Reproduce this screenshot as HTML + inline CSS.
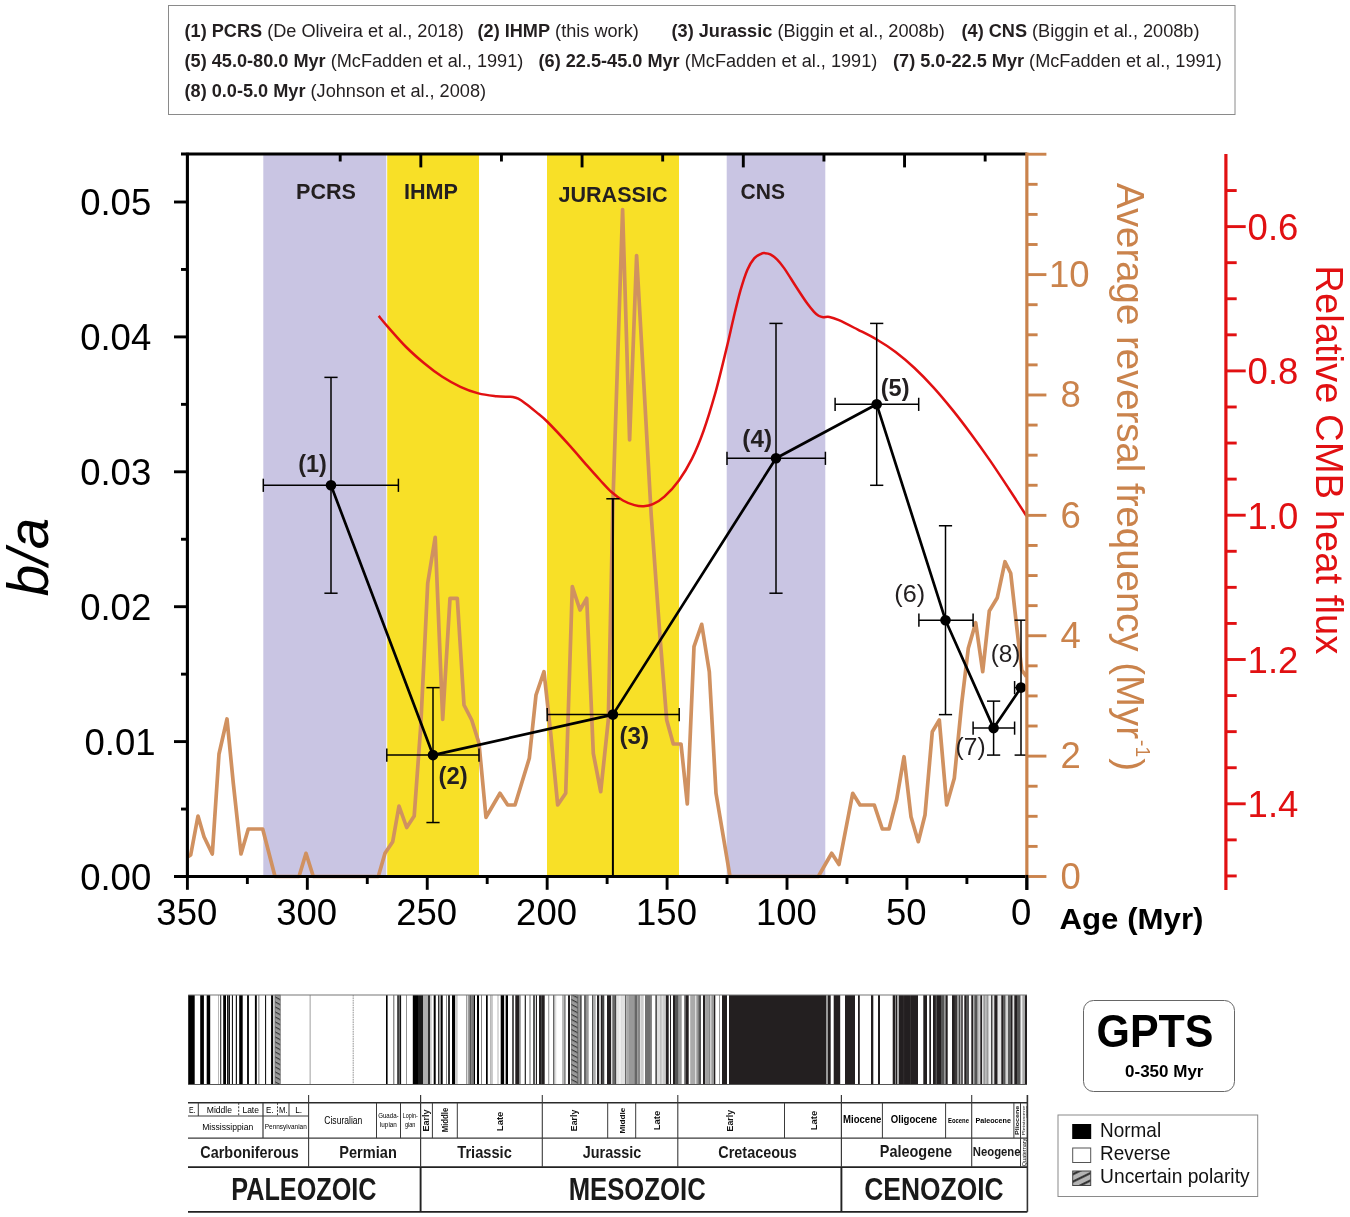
<!DOCTYPE html>
<html lang="en">
<head>
<meta charset="utf-8">
<title>b/a versus age, reversal frequency, CMB heat flux and GPTS</title>
<style>
html,body{margin:0;padding:0;background:#fff;}
body{width:1350px;height:1217px;overflow:hidden;}
svg{display:block;font-family:"Liberation Sans", sans-serif;}
text{font-family:"Liberation Sans", sans-serif;}
</style>
</head>
<body>
<svg width="1350" height="1217" viewBox="0 0 1350 1217">
<rect width="1350" height="1217" fill="#fff"/>
<!-- header -->
<rect x="168.50" y="5.50" width="1066.50" height="109.00" fill="#fff" stroke="#8a8a8a" stroke-width="1"/>
<text x="184.50" y="37.00" font-size="18.15" fill="#231f20" xml:space="preserve"><tspan font-weight="bold">(1) PCRS</tspan> (De Oliveira et al., 2018)</text>
<text x="477.50" y="37.00" font-size="18.15" fill="#231f20" xml:space="preserve"><tspan font-weight="bold">(2) IHMP</tspan> (this work)</text>
<text x="671.50" y="37.00" font-size="18.15" fill="#231f20" xml:space="preserve"><tspan font-weight="bold">(3) Jurassic</tspan> (Biggin et al., 2008b)</text>
<text x="961.50" y="37.00" font-size="18.15" fill="#231f20" xml:space="preserve"><tspan font-weight="bold">(4) CNS</tspan> (Biggin et al., 2008b)</text>
<text x="184.50" y="67.00" font-size="18.15" fill="#231f20" xml:space="preserve"><tspan font-weight="bold">(5) 45.0-80.0 Myr</tspan> (McFadden et al., 1991)</text>
<text x="538.50" y="67.00" font-size="18.15" fill="#231f20" xml:space="preserve"><tspan font-weight="bold">(6) 22.5-45.0 Myr</tspan> (McFadden et al., 1991)</text>
<text x="893.00" y="67.00" font-size="18.15" fill="#231f20" xml:space="preserve"><tspan font-weight="bold">(7) 5.0-22.5 Myr</tspan> (McFadden et al., 1991)</text>
<text x="184.50" y="96.50" font-size="18.15" fill="#231f20" xml:space="preserve"><tspan font-weight="bold">(8) 0.0-5.0 Myr</tspan> (Johnson et al., 2008)</text>
<!-- bands -->
<rect x="263.30" y="154.00" width="123.00" height="722.50" fill="#c9c5e3" />
<rect x="387.20" y="154.00" width="91.80" height="722.50" fill="#f8e027" />
<rect x="547.00" y="154.00" width="132.00" height="722.50" fill="#f8e027" />
<rect x="726.70" y="154.00" width="98.60" height="722.50" fill="#c9c5e3" />
<text x="296.00" y="199.40" font-size="22.2" fill="#231f20" font-weight="bold" textLength="60.00" lengthAdjust="spacingAndGlyphs" >PCRS</text>
<text x="404.00" y="199.40" font-size="22.2" fill="#231f20" font-weight="bold" textLength="54.00" lengthAdjust="spacingAndGlyphs" >IHMP</text>
<text x="558.50" y="201.80" font-size="22.2" fill="#231f20" font-weight="bold" textLength="109.00" lengthAdjust="spacingAndGlyphs" >JURASSIC</text>
<text x="740.50" y="199.20" font-size="22.2" fill="#231f20" font-weight="bold" textLength="44.50" lengthAdjust="spacingAndGlyphs" >CNS</text>
<polyline fill="none" stroke="#d09160" stroke-width="3.7" stroke-linejoin="round" stroke-linecap="butt" points="188.0,856.7 190.7,855.0 198.0,816.0 204.0,836.7 212.3,854.0 219.0,754.0 227.0,719.0 233.3,783.3 241.0,854.0 248.3,829.0 262.7,829.0 275.0,876.5 299.0,876.5 306.0,853.3 313.3,876.5 378.3,876.5 385.0,853.3 392.7,841.7 399.0,806.0 406.7,827.5 414.2,816.0 420.7,726.7 427.7,583.3 435.2,537.3 442.7,719.3 450.0,598.3 457.3,598.3 464.0,705.0 471.7,720.0 479.0,743.3 486.0,817.3 500.0,793.3 507.7,805.0 515.0,805.0 529.3,758.3 536.0,695.0 544.0,671.7 550.7,733.3 557.7,805.0 565.7,793.3 572.3,586.7 580.0,610.0 586.7,598.3 593.3,753.3 600.7,791.7 608.3,720.0 613.0,500.0 622.6,209.5 629.6,440.0 636.6,255.5 651.2,515.0 660.0,636.7 666.7,720.0 673.3,744.0 681.0,744.0 687.3,804.0 694.0,646.7 701.7,624.3 709.3,671.7 716.0,793.3 730.0,876.5 818.3,876.5 831.7,853.3 839.0,864.5 852.7,793.3 860.0,805.0 874.3,805.0 882.3,829.0 889.0,829.0 896.7,799.3 904.0,756.7 911.0,816.7 918.3,841.7 925.0,815.0 932.3,731.7 939.3,720.0 946.7,805.0 954.3,778.3 961.7,703.3 968.3,648.3 975.7,622.7 982.7,671.7 989.3,611.0 997.3,597.7 1005.0,561.7 1010.7,573.3 1016.7,626.7 1021.7,670.0 1026.5,676.7"/>
<path d="M378.7,315.9C380.3,317.8 383.5,321.9 388.1,327.1C392.7,332.3 400.1,341.0 406.1,347.0C412.1,353.0 418.2,358.3 424.2,363.3C430.2,368.3 436.3,372.9 442.3,376.8C448.3,380.7 454.4,384.0 460.4,386.8C466.4,389.6 472.4,391.8 478.4,393.4C484.4,395.0 491.6,395.7 496.5,396.3C501.4,396.9 505.3,396.7 508.0,396.8C510.7,396.9 511.1,396.7 512.8,397.0C514.5,397.3 516.1,397.6 518.2,398.7C520.3,399.8 522.4,401.2 525.4,403.4C528.4,405.6 532.7,409.1 536.3,412.1C539.9,415.1 541.7,416.1 547.1,421.5C552.5,426.9 562.2,437.3 568.8,444.6C575.4,451.9 581.7,459.5 586.9,465.4C592.1,471.3 595.9,475.6 600.0,480.0C604.1,484.4 607.7,488.6 611.5,492.0C615.3,495.4 619.2,498.3 623.0,500.5C626.8,502.7 631.0,504.2 634.5,505.1C638.0,506.1 640.6,506.4 643.7,506.2C646.8,506.0 649.5,505.7 652.9,504.1C656.3,502.5 660.1,500.6 664.4,496.6C668.7,492.7 674.3,486.7 678.9,480.4C683.5,474.1 687.9,466.8 692.0,458.6C696.1,450.4 699.7,441.7 703.5,431.0C707.3,420.3 711.1,408.0 715.0,394.2C718.9,380.4 723.5,360.8 726.6,348.1C729.7,335.4 731.2,327.8 733.5,318.2C735.8,308.6 738.1,298.7 740.4,290.6C742.7,282.6 745.0,275.3 747.3,269.9C749.6,264.5 751.9,261.1 754.2,258.4C756.5,255.7 759.4,254.7 761.1,253.8C762.8,252.9 763.0,253.0 764.5,253.1C766.0,253.2 768.2,253.2 770.3,254.3C772.4,255.4 774.9,257.3 777.2,259.6C779.5,261.9 781.0,263.7 784.1,268.1C787.2,272.5 791.8,280.1 795.6,286.0C799.4,291.9 804.0,299.0 807.1,303.3C810.2,307.6 812.1,309.7 814.0,311.8C815.9,313.9 817.1,314.8 818.6,315.7C820.1,316.6 821.4,317.0 823.2,317.2C825.0,317.4 826.8,316.5 829.4,317.0C832.0,317.5 834.2,318.1 838.9,320.2C843.6,322.3 851.5,326.4 857.8,329.6C864.1,332.8 870.4,335.8 876.7,339.5C883.0,343.2 889.3,347.2 895.6,352.0C901.9,356.8 908.2,362.1 914.5,368.0C920.8,373.9 927.1,380.4 933.4,387.3C939.7,394.2 946.0,401.8 952.3,409.6C958.6,417.4 964.9,425.7 971.2,434.2C977.5,442.7 983.8,451.5 990.1,460.6C996.4,469.7 1002.9,479.8 1009.0,489.0C1015.1,498.2 1023.6,511.5 1026.5,516.0" fill="none" stroke="#e11012" stroke-width="2.5"/>
<line x1="263.30" y1="485.29" x2="398.40" y2="485.29" stroke="#000" stroke-width="1.5" />
<line x1="263.30" y1="478.69" x2="263.30" y2="491.89" stroke="#000" stroke-width="1.5" />
<line x1="398.40" y1="478.69" x2="398.40" y2="491.89" stroke="#000" stroke-width="1.5" />
<line x1="331.00" y1="377.37" x2="331.00" y2="593.21" stroke="#000" stroke-width="1.5" />
<line x1="324.40" y1="377.37" x2="337.60" y2="377.37" stroke="#000" stroke-width="1.5" />
<line x1="324.40" y1="593.21" x2="337.60" y2="593.21" stroke="#000" stroke-width="1.5" />
<line x1="386.80" y1="755.09" x2="479.00" y2="755.09" stroke="#000" stroke-width="1.5" />
<line x1="386.80" y1="748.49" x2="386.80" y2="761.69" stroke="#000" stroke-width="1.5" />
<line x1="479.00" y1="748.49" x2="479.00" y2="761.69" stroke="#000" stroke-width="1.5" />
<line x1="433.00" y1="687.64" x2="433.00" y2="822.54" stroke="#000" stroke-width="1.5" />
<line x1="426.40" y1="687.64" x2="439.60" y2="687.64" stroke="#000" stroke-width="1.5" />
<line x1="426.40" y1="822.54" x2="439.60" y2="822.54" stroke="#000" stroke-width="1.5" />
<line x1="547.20" y1="714.62" x2="679.20" y2="714.62" stroke="#000" stroke-width="1.5" />
<line x1="547.20" y1="708.02" x2="547.20" y2="721.22" stroke="#000" stroke-width="1.5" />
<line x1="679.20" y1="708.02" x2="679.20" y2="721.22" stroke="#000" stroke-width="1.5" />
<line x1="612.90" y1="498.78" x2="612.90" y2="876.50" stroke="#000" stroke-width="2.0" />
<line x1="606.30" y1="498.78" x2="619.50" y2="498.78" stroke="#000" stroke-width="1.5" />
<line x1="727.00" y1="458.31" x2="825.40" y2="458.31" stroke="#000" stroke-width="1.5" />
<line x1="727.00" y1="451.71" x2="727.00" y2="464.91" stroke="#000" stroke-width="1.5" />
<line x1="825.40" y1="451.71" x2="825.40" y2="464.91" stroke="#000" stroke-width="1.5" />
<line x1="776.00" y1="323.41" x2="776.00" y2="593.21" stroke="#000" stroke-width="1.5" />
<line x1="769.40" y1="323.41" x2="782.60" y2="323.41" stroke="#000" stroke-width="1.5" />
<line x1="769.40" y1="593.21" x2="782.60" y2="593.21" stroke="#000" stroke-width="1.5" />
<line x1="835.10" y1="404.35" x2="918.70" y2="404.35" stroke="#000" stroke-width="1.5" />
<line x1="835.10" y1="397.75" x2="835.10" y2="410.95" stroke="#000" stroke-width="1.5" />
<line x1="918.70" y1="397.75" x2="918.70" y2="410.95" stroke="#000" stroke-width="1.5" />
<line x1="876.70" y1="323.41" x2="876.70" y2="485.29" stroke="#000" stroke-width="1.5" />
<line x1="870.10" y1="323.41" x2="883.30" y2="323.41" stroke="#000" stroke-width="1.5" />
<line x1="870.10" y1="485.29" x2="883.30" y2="485.29" stroke="#000" stroke-width="1.5" />
<line x1="918.90" y1="620.19" x2="973.10" y2="620.19" stroke="#000" stroke-width="1.5" />
<line x1="918.90" y1="613.59" x2="918.90" y2="626.79" stroke="#000" stroke-width="1.5" />
<line x1="973.10" y1="613.59" x2="973.10" y2="626.79" stroke="#000" stroke-width="1.5" />
<line x1="945.50" y1="525.76" x2="945.50" y2="714.62" stroke="#000" stroke-width="1.5" />
<line x1="938.90" y1="525.76" x2="952.10" y2="525.76" stroke="#000" stroke-width="1.5" />
<line x1="938.90" y1="714.62" x2="952.10" y2="714.62" stroke="#000" stroke-width="1.5" />
<line x1="973.10" y1="728.11" x2="1014.60" y2="728.11" stroke="#000" stroke-width="1.5" />
<line x1="973.10" y1="721.51" x2="973.10" y2="734.71" stroke="#000" stroke-width="1.5" />
<line x1="1014.60" y1="721.51" x2="1014.60" y2="734.71" stroke="#000" stroke-width="1.5" />
<line x1="993.60" y1="701.13" x2="993.60" y2="755.09" stroke="#000" stroke-width="1.5" />
<line x1="987.00" y1="701.13" x2="1000.20" y2="701.13" stroke="#000" stroke-width="1.5" />
<line x1="987.00" y1="755.09" x2="1000.20" y2="755.09" stroke="#000" stroke-width="1.5" />
<line x1="1014.60" y1="687.64" x2="1026.85" y2="687.64" stroke="#000" stroke-width="1.5" />
<line x1="1014.60" y1="681.04" x2="1014.60" y2="694.24" stroke="#000" stroke-width="1.5" />
<line x1="1021.00" y1="620.19" x2="1021.00" y2="755.09" stroke="#000" stroke-width="1.5" />
<line x1="1014.60" y1="620.19" x2="1027.00" y2="620.19" stroke="#000" stroke-width="1.5" />
<line x1="1014.60" y1="755.09" x2="1027.00" y2="755.09" stroke="#000" stroke-width="1.5" />
<polyline fill="none" stroke="#000" stroke-width="2.7" stroke-linejoin="round" points="331.0,485.3 433.0,755.1 612.9,714.6 776.0,458.3 876.7,404.3 945.5,620.2 993.6,728.1 1021.0,687.6"/>
<circle cx="331.0" cy="485.3" r="5.3" fill="#000"/>
<circle cx="433.0" cy="755.1" r="5.3" fill="#000"/>
<circle cx="612.9" cy="714.6" r="5.3" fill="#000"/>
<circle cx="776.0" cy="458.3" r="5.3" fill="#000"/>
<circle cx="876.7" cy="404.3" r="5.3" fill="#000"/>
<circle cx="945.5" cy="620.2" r="5.3" fill="#000"/>
<circle cx="993.6" cy="728.1" r="5.3" fill="#000"/>
<circle cx="1021.0" cy="687.6" r="5.3" fill="#000"/>
<text x="298.20" y="471.60" font-size="23.5" fill="#231f20" font-weight="bold" textLength="28.60" lengthAdjust="spacingAndGlyphs" >(1)</text>
<text x="438.60" y="783.90" font-size="23.5" fill="#231f20" font-weight="bold" textLength="29.20" lengthAdjust="spacingAndGlyphs" >(2)</text>
<text x="619.50" y="743.50" font-size="23.5" fill="#231f20" font-weight="bold" textLength="29.60" lengthAdjust="spacingAndGlyphs" >(3)</text>
<text x="742.30" y="447.30" font-size="23.5" fill="#231f20" font-weight="bold" textLength="29.70" lengthAdjust="spacingAndGlyphs" >(4)</text>
<text x="880.70" y="395.60" font-size="23.5" fill="#231f20" font-weight="bold" textLength="28.80" lengthAdjust="spacingAndGlyphs" >(5)</text>
<text x="894.30" y="601.80" font-size="23.5" fill="#231f20" textLength="30.80" lengthAdjust="spacingAndGlyphs" >(6)</text>
<text x="955.60" y="754.70" font-size="23.5" fill="#231f20" textLength="30.00" lengthAdjust="spacingAndGlyphs" >(7)</text>
<text x="990.70" y="662.40" font-size="23.5" fill="#231f20" textLength="29.80" lengthAdjust="spacingAndGlyphs" >(8)</text>
<!-- axes -->
<line x1="181.00" y1="154.00" x2="1026.85" y2="154.00" stroke="#000" stroke-width="3.1" />
<line x1="187.40" y1="152.80" x2="187.40" y2="878.00" stroke="#000" stroke-width="3.1" />
<line x1="174.00" y1="876.50" x2="1028.35" y2="876.50" stroke="#000" stroke-width="3.1" />
<line x1="174.00" y1="876.50" x2="187.40" y2="876.50" stroke="#000" stroke-width="2.9" />
<line x1="181.00" y1="809.05" x2="187.40" y2="809.05" stroke="#000" stroke-width="2.9" />
<line x1="174.00" y1="741.60" x2="187.40" y2="741.60" stroke="#000" stroke-width="2.9" />
<line x1="181.00" y1="674.15" x2="187.40" y2="674.15" stroke="#000" stroke-width="2.9" />
<line x1="174.00" y1="606.70" x2="187.40" y2="606.70" stroke="#000" stroke-width="2.9" />
<line x1="181.00" y1="539.25" x2="187.40" y2="539.25" stroke="#000" stroke-width="2.9" />
<line x1="174.00" y1="471.80" x2="187.40" y2="471.80" stroke="#000" stroke-width="2.9" />
<line x1="181.00" y1="404.35" x2="187.40" y2="404.35" stroke="#000" stroke-width="2.9" />
<line x1="174.00" y1="336.90" x2="187.40" y2="336.90" stroke="#000" stroke-width="2.9" />
<line x1="181.00" y1="269.45" x2="187.40" y2="269.45" stroke="#000" stroke-width="2.9" />
<line x1="174.00" y1="202.00" x2="187.40" y2="202.00" stroke="#000" stroke-width="2.9" />
<text x="151.20" y="889.60" font-size="36.5" fill="#000" text-anchor="end" >0.00</text>
<text x="155.60" y="754.70" font-size="36.5" fill="#000" text-anchor="end" >0.01</text>
<text x="151.20" y="619.80" font-size="36.5" fill="#000" text-anchor="end" >0.02</text>
<text x="151.20" y="484.90" font-size="36.5" fill="#000" text-anchor="end" >0.03</text>
<text x="151.20" y="350.00" font-size="36.5" fill="#000" text-anchor="end" >0.04</text>
<text x="151.20" y="215.10" font-size="36.5" fill="#000" text-anchor="end" >0.05</text>
<line x1="1026.85" y1="876.50" x2="1026.85" y2="889.80" stroke="#000" stroke-width="2.9" />
<line x1="966.89" y1="876.50" x2="966.89" y2="884.00" stroke="#000" stroke-width="2.9" />
<line x1="906.93" y1="876.50" x2="906.93" y2="889.80" stroke="#000" stroke-width="2.9" />
<line x1="846.97" y1="876.50" x2="846.97" y2="884.00" stroke="#000" stroke-width="2.9" />
<line x1="787.01" y1="876.50" x2="787.01" y2="889.80" stroke="#000" stroke-width="2.9" />
<line x1="727.05" y1="876.50" x2="727.05" y2="884.00" stroke="#000" stroke-width="2.9" />
<line x1="667.09" y1="876.50" x2="667.09" y2="889.80" stroke="#000" stroke-width="2.9" />
<line x1="607.12" y1="876.50" x2="607.12" y2="884.00" stroke="#000" stroke-width="2.9" />
<line x1="547.16" y1="876.50" x2="547.16" y2="889.80" stroke="#000" stroke-width="2.9" />
<line x1="487.20" y1="876.50" x2="487.20" y2="884.00" stroke="#000" stroke-width="2.9" />
<line x1="427.24" y1="876.50" x2="427.24" y2="889.80" stroke="#000" stroke-width="2.9" />
<line x1="367.28" y1="876.50" x2="367.28" y2="884.00" stroke="#000" stroke-width="2.9" />
<line x1="307.32" y1="876.50" x2="307.32" y2="889.80" stroke="#000" stroke-width="2.9" />
<line x1="247.36" y1="876.50" x2="247.36" y2="884.00" stroke="#000" stroke-width="2.9" />
<line x1="187.40" y1="876.50" x2="187.40" y2="889.80" stroke="#000" stroke-width="2.9" />
<text x="186.80" y="925.00" font-size="36.5" fill="#000" text-anchor="middle" >350</text>
<text x="306.72" y="925.00" font-size="36.5" fill="#000" text-anchor="middle" >300</text>
<text x="426.64" y="925.00" font-size="36.5" fill="#000" text-anchor="middle" >250</text>
<text x="546.56" y="925.00" font-size="36.5" fill="#000" text-anchor="middle" >200</text>
<text x="666.49" y="925.00" font-size="36.5" fill="#000" text-anchor="middle" >150</text>
<text x="786.41" y="925.00" font-size="36.5" fill="#000" text-anchor="middle" >100</text>
<text x="906.33" y="925.00" font-size="36.5" fill="#000" text-anchor="middle" >50</text>
<text x="1021.20" y="925.00" font-size="36.5" fill="#000" text-anchor="middle" >0</text>
<line x1="340.20" y1="154.00" x2="340.20" y2="161.50" stroke="#000" stroke-width="2.9" />
<line x1="420.82" y1="154.00" x2="420.82" y2="167.40" stroke="#000" stroke-width="2.9" />
<line x1="501.44" y1="154.00" x2="501.44" y2="161.50" stroke="#000" stroke-width="2.9" />
<line x1="582.06" y1="154.00" x2="582.06" y2="167.40" stroke="#000" stroke-width="2.9" />
<line x1="662.68" y1="154.00" x2="662.68" y2="161.50" stroke="#000" stroke-width="2.9" />
<line x1="743.30" y1="154.00" x2="743.30" y2="167.40" stroke="#000" stroke-width="2.9" />
<line x1="823.92" y1="154.00" x2="823.92" y2="161.50" stroke="#000" stroke-width="2.9" />
<line x1="904.54" y1="154.00" x2="904.54" y2="167.40" stroke="#000" stroke-width="2.9" />
<line x1="985.16" y1="154.00" x2="985.16" y2="161.50" stroke="#000" stroke-width="2.9" />
<text x="47.80" y="596.30" font-size="57.5" fill="#000" font-style="italic" textLength="78.50" lengthAdjust="spacingAndGlyphs" transform="rotate(-90 47.80 596.30)" >b/a</text>
<text x="1059.50" y="928.70" font-size="29" fill="#000" font-weight="bold" textLength="144.00" lengthAdjust="spacingAndGlyphs" >Age (Myr)</text>
<line x1="1026.85" y1="152.50" x2="1026.85" y2="878.10" stroke="#ca834c" stroke-width="3.2" />
<line x1="1026.85" y1="876.50" x2="1046.40" y2="876.50" stroke="#ca834c" stroke-width="2.9" />
<line x1="1026.85" y1="846.40" x2="1037.60" y2="846.40" stroke="#ca834c" stroke-width="2.9" />
<line x1="1026.85" y1="816.31" x2="1037.60" y2="816.31" stroke="#ca834c" stroke-width="2.9" />
<line x1="1026.85" y1="786.22" x2="1037.60" y2="786.22" stroke="#ca834c" stroke-width="2.9" />
<line x1="1026.85" y1="756.12" x2="1046.40" y2="756.12" stroke="#ca834c" stroke-width="2.9" />
<line x1="1026.85" y1="726.02" x2="1037.60" y2="726.02" stroke="#ca834c" stroke-width="2.9" />
<line x1="1026.85" y1="695.93" x2="1037.60" y2="695.93" stroke="#ca834c" stroke-width="2.9" />
<line x1="1026.85" y1="665.84" x2="1037.60" y2="665.84" stroke="#ca834c" stroke-width="2.9" />
<line x1="1026.85" y1="635.74" x2="1046.40" y2="635.74" stroke="#ca834c" stroke-width="2.9" />
<line x1="1026.85" y1="605.64" x2="1037.60" y2="605.64" stroke="#ca834c" stroke-width="2.9" />
<line x1="1026.85" y1="575.55" x2="1037.60" y2="575.55" stroke="#ca834c" stroke-width="2.9" />
<line x1="1026.85" y1="545.46" x2="1037.60" y2="545.46" stroke="#ca834c" stroke-width="2.9" />
<line x1="1026.85" y1="515.36" x2="1046.40" y2="515.36" stroke="#ca834c" stroke-width="2.9" />
<line x1="1026.85" y1="485.26" x2="1037.60" y2="485.26" stroke="#ca834c" stroke-width="2.9" />
<line x1="1026.85" y1="455.17" x2="1037.60" y2="455.17" stroke="#ca834c" stroke-width="2.9" />
<line x1="1026.85" y1="425.08" x2="1037.60" y2="425.08" stroke="#ca834c" stroke-width="2.9" />
<line x1="1026.85" y1="394.98" x2="1046.40" y2="394.98" stroke="#ca834c" stroke-width="2.9" />
<line x1="1026.85" y1="364.88" x2="1037.60" y2="364.88" stroke="#ca834c" stroke-width="2.9" />
<line x1="1026.85" y1="334.79" x2="1037.60" y2="334.79" stroke="#ca834c" stroke-width="2.9" />
<line x1="1026.85" y1="304.70" x2="1037.60" y2="304.70" stroke="#ca834c" stroke-width="2.9" />
<line x1="1026.85" y1="274.60" x2="1046.40" y2="274.60" stroke="#ca834c" stroke-width="2.9" />
<line x1="1026.85" y1="244.50" x2="1037.60" y2="244.50" stroke="#ca834c" stroke-width="2.9" />
<line x1="1026.85" y1="214.41" x2="1037.60" y2="214.41" stroke="#ca834c" stroke-width="2.9" />
<line x1="1026.85" y1="184.32" x2="1037.60" y2="184.32" stroke="#ca834c" stroke-width="2.9" />
<line x1="1026.85" y1="154.22" x2="1046.40" y2="154.22" stroke="#ca834c" stroke-width="2.9" />
<text x="1070.60" y="888.80" font-size="36.5" fill="#ca834c" text-anchor="middle" >0</text>
<text x="1070.60" y="768.42" font-size="36.5" fill="#ca834c" text-anchor="middle" >2</text>
<text x="1070.60" y="648.04" font-size="36.5" fill="#ca834c" text-anchor="middle" >4</text>
<text x="1070.60" y="527.66" font-size="36.5" fill="#ca834c" text-anchor="middle" >6</text>
<text x="1070.60" y="407.28" font-size="36.5" fill="#ca834c" text-anchor="middle" >8</text>
<text x="1069.20" y="286.90" font-size="36.5" fill="#ca834c" text-anchor="middle" >10</text>
<line x1="1026.85" y1="874.90" x2="1026.85" y2="890.00" stroke="#000" stroke-width="2.9" />
<text x="1116.8" y="183" font-size="39.5" fill="#ca834c" transform="rotate(90 1116.8 183)" textLength="588" lengthAdjust="spacingAndGlyphs">Average reversal frequency (Myr<tspan font-size="20" dy="-19" dx="1">-1</tspan><tspan dy="19" dx="1">)</tspan></text>
<line x1="1225.90" y1="154.00" x2="1225.90" y2="890.00" stroke="#e11012" stroke-width="3.2" />
<line x1="1225.90" y1="190.53" x2="1236.70" y2="190.53" stroke="#e11012" stroke-width="2.9" />
<line x1="1225.90" y1="226.60" x2="1245.70" y2="226.60" stroke="#e11012" stroke-width="2.9" />
<line x1="1225.90" y1="262.68" x2="1236.70" y2="262.68" stroke="#e11012" stroke-width="2.9" />
<line x1="1225.90" y1="298.75" x2="1236.70" y2="298.75" stroke="#e11012" stroke-width="2.9" />
<line x1="1225.90" y1="334.83" x2="1236.70" y2="334.83" stroke="#e11012" stroke-width="2.9" />
<line x1="1225.90" y1="370.90" x2="1245.70" y2="370.90" stroke="#e11012" stroke-width="2.9" />
<line x1="1225.90" y1="406.98" x2="1236.70" y2="406.98" stroke="#e11012" stroke-width="2.9" />
<line x1="1225.90" y1="443.05" x2="1236.70" y2="443.05" stroke="#e11012" stroke-width="2.9" />
<line x1="1225.90" y1="479.12" x2="1236.70" y2="479.12" stroke="#e11012" stroke-width="2.9" />
<line x1="1225.90" y1="515.20" x2="1245.70" y2="515.20" stroke="#e11012" stroke-width="2.9" />
<line x1="1225.90" y1="551.28" x2="1236.70" y2="551.28" stroke="#e11012" stroke-width="2.9" />
<line x1="1225.90" y1="587.35" x2="1236.70" y2="587.35" stroke="#e11012" stroke-width="2.9" />
<line x1="1225.90" y1="623.42" x2="1236.70" y2="623.42" stroke="#e11012" stroke-width="2.9" />
<line x1="1225.90" y1="659.50" x2="1245.70" y2="659.50" stroke="#e11012" stroke-width="2.9" />
<line x1="1225.90" y1="695.58" x2="1236.70" y2="695.58" stroke="#e11012" stroke-width="2.9" />
<line x1="1225.90" y1="731.65" x2="1236.70" y2="731.65" stroke="#e11012" stroke-width="2.9" />
<line x1="1225.90" y1="767.73" x2="1236.70" y2="767.73" stroke="#e11012" stroke-width="2.9" />
<line x1="1225.90" y1="803.80" x2="1245.70" y2="803.80" stroke="#e11012" stroke-width="2.9" />
<line x1="1225.90" y1="839.88" x2="1236.70" y2="839.88" stroke="#e11012" stroke-width="2.9" />
<line x1="1225.90" y1="875.95" x2="1236.70" y2="875.95" stroke="#e11012" stroke-width="2.9" />
<text x="1247.60" y="240.00" font-size="36.5" fill="#e11012" >0.6</text>
<text x="1247.60" y="384.30" font-size="36.5" fill="#e11012" >0.8</text>
<text x="1247.60" y="528.60" font-size="36.5" fill="#e11012" >1.0</text>
<text x="1247.60" y="672.90" font-size="36.5" fill="#e11012" >1.2</text>
<text x="1247.60" y="817.20" font-size="36.5" fill="#e11012" >1.4</text>
<text x="1316.30" y="265.30" font-size="39.2" fill="#e11012" textLength="389.00" lengthAdjust="spacingAndGlyphs" transform="rotate(90 1316.30 265.30)" >Relative CMB heat flux</text>
<!-- gpts -->
<rect x="188.20" y="995.00" width="838.80" height="89.50" fill="#fff" />
<rect x="188.20" y="995.0" width="6.50" height="89.5" fill="#000"/>
<rect x="200.20" y="995.0" width="3.70" height="89.5" fill="#000"/>
<rect x="206.70" y="995.0" width="3.50" height="89.5" fill="#000"/>
<rect x="218.40" y="995.0" width="0.60" height="89.5" fill="#888"/>
<rect x="220.30" y="995.0" width="0.90" height="89.5" fill="#000"/>
<rect x="223.20" y="995.0" width="2.80" height="89.5" fill="#000"/>
<rect x="227.20" y="995.0" width="2.80" height="89.5" fill="#555"/>
<rect x="227.20" y="995.0" width="0.80" height="89.5" fill="#000"/>
<rect x="229.20" y="995.0" width="0.80" height="89.5" fill="#000"/>
<rect x="231.90" y="995.0" width="1.00" height="89.5" fill="#000"/>
<rect x="235.80" y="995.0" width="1.10" height="89.5" fill="#000"/>
<rect x="239.20" y="995.0" width="3.50" height="89.5" fill="#000"/>
<rect x="247.10" y="995.0" width="1.80" height="89.5" fill="#000"/>
<rect x="254.90" y="995.0" width="1.90" height="89.5" fill="#000"/>
<rect x="258.30" y="995.0" width="1.10" height="89.5" fill="#888"/>
<rect x="265.10" y="995.0" width="1.00" height="89.5" fill="#000"/>
<rect x="271.10" y="995.0" width="2.10" height="89.5" fill="#000"/>
<rect x="273.20" y="995.0" width="1.90" height="89.5" fill="#ccc"/>
<rect x="309.70" y="995.0" width="0.80" height="89.5" fill="#888"/>
<rect x="386.00" y="995.0" width="1.60" height="89.5" fill="#000"/>
<rect x="393.10" y="995.0" width="1.30" height="89.5" fill="#888"/>
<rect x="397.30" y="995.0" width="1.50" height="89.5" fill="#111"/>
<rect x="399.40" y="995.0" width="1.70" height="89.5" fill="#111"/>
<rect x="406.10" y="995.0" width="0.90" height="89.5" fill="#888"/>
<rect x="412.80" y="995.0" width="5.20" height="89.5" fill="#000"/>
<rect x="418.00" y="995.0" width="5.00" height="89.5" fill="#1c1c1c"/>
<rect x="423.00" y="995.0" width="5.00" height="89.5" fill="#b0b0b0"/>
<rect x="428.00" y="995.0" width="2.00" height="89.5" fill="#333"/>
<rect x="430.00" y="995.0" width="1.70" height="89.5" fill="#ccc"/>
<rect x="433.70" y="995.0" width="2.00" height="89.5" fill="#000"/>
<rect x="438.00" y="995.0" width="1.10" height="89.5" fill="#333"/>
<rect x="439.10" y="995.0" width="1.80" height="89.5" fill="#999"/>
<rect x="440.90" y="995.0" width="1.80" height="89.5" fill="#000"/>
<rect x="446.00" y="995.0" width="1.00" height="89.5" fill="#888"/>
<rect x="448.00" y="995.0" width="2.00" height="89.5" fill="#333"/>
<rect x="452.00" y="995.0" width="3.00" height="89.5" fill="#000"/>
<rect x="455.00" y="995.0" width="2.70" height="89.5" fill="#ccc"/>
<rect x="466.30" y="995.0" width="1.00" height="89.5" fill="#777"/>
<rect x="467.30" y="995.0" width="1.00" height="89.5" fill="#ddd"/>
<rect x="468.30" y="995.0" width="1.40" height="89.5" fill="#777"/>
<rect x="469.70" y="995.0" width="2.00" height="89.5" fill="#555"/>
<rect x="471.70" y="995.0" width="2.00" height="89.5" fill="#777"/>
<rect x="473.70" y="995.0" width="1.30" height="89.5" fill="#000"/>
<rect x="477.00" y="995.0" width="2.00" height="89.5" fill="#000"/>
<rect x="481.00" y="995.0" width="1.00" height="89.5" fill="#888"/>
<rect x="486.00" y="995.0" width="1.70" height="89.5" fill="#000"/>
<rect x="490.30" y="995.0" width="1.30" height="89.5" fill="#999"/>
<rect x="491.60" y="995.0" width="1.40" height="89.5" fill="#ccc"/>
<rect x="497.30" y="995.0" width="1.40" height="89.5" fill="#ccc"/>
<rect x="500.70" y="995.0" width="3.30" height="89.5" fill="#000"/>
<rect x="504.00" y="995.0" width="1.70" height="89.5" fill="#ddd"/>
<rect x="505.70" y="995.0" width="2.30" height="89.5" fill="#000"/>
<rect x="512.00" y="995.0" width="2.00" height="89.5" fill="#555"/>
<rect x="515.30" y="995.0" width="3.70" height="89.5" fill="#231f20"/>
<rect x="519.00" y="995.0" width="1.70" height="89.5" fill="#888"/>
<rect x="524.70" y="995.0" width="1.30" height="89.5" fill="#333"/>
<rect x="529.30" y="995.0" width="1.40" height="89.5" fill="#999"/>
<rect x="533.00" y="995.0" width="2.00" height="89.5" fill="#555"/>
<rect x="535.00" y="995.0" width="1.00" height="89.5" fill="#ddd"/>
<rect x="536.00" y="995.0" width="1.00" height="89.5" fill="#231f20"/>
<rect x="539.00" y="995.0" width="2.00" height="89.5" fill="#231f20"/>
<rect x="541.00" y="995.0" width="1.00" height="89.5" fill="#444"/>
<rect x="542.00" y="995.0" width="2.70" height="89.5" fill="#231f20"/>
<rect x="548.00" y="995.0" width="1.30" height="89.5" fill="#aaa"/>
<rect x="553.00" y="995.0" width="1.30" height="89.5" fill="#666"/>
<rect x="554.30" y="995.0" width="1.00" height="89.5" fill="#aaa"/>
<rect x="555.30" y="995.0" width="1.00" height="89.5" fill="#ddd"/>
<rect x="562.00" y="995.0" width="1.70" height="89.5" fill="#bbb"/>
<rect x="563.70" y="995.0" width="2.00" height="89.5" fill="#888"/>
<rect x="568.00" y="995.0" width="2.00" height="89.5" fill="#231f20"/>
<rect x="577.30" y="995.0" width="1.40" height="89.5" fill="#555"/>
<rect x="578.70" y="995.0" width="1.30" height="89.5" fill="#999"/>
<rect x="580.00" y="995.0" width="1.70" height="89.5" fill="#555"/>
<rect x="584.00" y="995.0" width="2.70" height="89.5" fill="#666"/>
<rect x="586.70" y="995.0" width="2.00" height="89.5" fill="#999"/>
<rect x="592.00" y="995.0" width="1.00" height="89.5" fill="#555"/>
<rect x="593.00" y="995.0" width="2.70" height="89.5" fill="#aaa"/>
<rect x="597.00" y="995.0" width="2.00" height="89.5" fill="#231f20"/>
<rect x="599.00" y="995.0" width="2.00" height="89.5" fill="#ccc"/>
<rect x="601.00" y="995.0" width="1.00" height="89.5" fill="#231f20"/>
<rect x="602.00" y="995.0" width="2.30" height="89.5" fill="#444"/>
<rect x="607.00" y="995.0" width="4.00" height="89.5" fill="#231f20"/>
<rect x="611.00" y="995.0" width="1.30" height="89.5" fill="#ddd"/>
<rect x="612.30" y="995.0" width="2.70" height="89.5" fill="#666"/>
<rect x="615.00" y="995.0" width="1.00" height="89.5" fill="#444"/>
<rect x="616.00" y="995.0" width="1.50" height="89.5" fill="#ccc"/>
<rect x="617.50" y="995.0" width="1.50" height="89.5" fill="#e4e4e4"/>
<rect x="619.00" y="995.0" width="1.70" height="89.5" fill="#eee"/>
<rect x="620.70" y="995.0" width="1.30" height="89.5" fill="#ddd"/>
<rect x="622.00" y="995.0" width="3.00" height="89.5" fill="#e2e2e2"/>
<rect x="625.00" y="995.0" width="1.30" height="89.5" fill="#666"/>
<rect x="626.30" y="995.0" width="2.70" height="89.5" fill="#aaa"/>
<rect x="629.00" y="995.0" width="5.30" height="89.5" fill="#999"/>
<rect x="634.30" y="995.0" width="3.00" height="89.5" fill="#666"/>
<rect x="637.30" y="995.0" width="2.70" height="89.5" fill="#888"/>
<rect x="640.00" y="995.0" width="1.00" height="89.5" fill="#ddd"/>
<rect x="641.00" y="995.0" width="2.70" height="89.5" fill="#ccc"/>
<rect x="645.00" y="995.0" width="5.30" height="89.5" fill="#707070"/>
<rect x="650.30" y="995.0" width="1.40" height="89.5" fill="#555"/>
<rect x="655.30" y="995.0" width="1.70" height="89.5" fill="#555"/>
<rect x="657.00" y="995.0" width="3.30" height="89.5" fill="#ddd"/>
<rect x="660.30" y="995.0" width="1.40" height="89.5" fill="#aaa"/>
<rect x="661.70" y="995.0" width="2.00" height="89.5" fill="#ddd"/>
<rect x="663.70" y="995.0" width="0.80" height="89.5" fill="#999"/>
<rect x="665.70" y="995.0" width="3.00" height="89.5" fill="#231f20"/>
<rect x="670.00" y="995.0" width="1.00" height="89.5" fill="#231f20"/>
<rect x="673.00" y="995.0" width="2.00" height="89.5" fill="#231f20"/>
<rect x="675.00" y="995.0" width="3.70" height="89.5" fill="#555"/>
<rect x="678.70" y="995.0" width="3.00" height="89.5" fill="#999"/>
<rect x="684.30" y="995.0" width="1.20" height="89.5" fill="#555"/>
<rect x="685.50" y="995.0" width="3.20" height="89.5" fill="#231f20"/>
<rect x="690.20" y="995.0" width="4.80" height="89.5" fill="#aaa"/>
<rect x="695.00" y="995.0" width="1.30" height="89.5" fill="#ddd"/>
<rect x="696.30" y="995.0" width="2.00" height="89.5" fill="#999"/>
<rect x="698.30" y="995.0" width="2.70" height="89.5" fill="#555"/>
<rect x="703.00" y="995.0" width="2.30" height="89.5" fill="#231f20"/>
<rect x="705.30" y="995.0" width="3.00" height="89.5" fill="#a0a0a0"/>
<rect x="708.30" y="995.0" width="2.00" height="89.5" fill="#888"/>
<rect x="710.30" y="995.0" width="1.00" height="89.5" fill="#ccc"/>
<rect x="711.30" y="995.0" width="2.70" height="89.5" fill="#999"/>
<rect x="714.00" y="995.0" width="1.30" height="89.5" fill="#231f20"/>
<rect x="719.00" y="995.0" width="1.00" height="89.5" fill="#999"/>
<rect x="722.00" y="995.0" width="5.00" height="89.5" fill="#231f20"/>
<rect x="729.00" y="995.0" width="97.00" height="89.5" fill="#231f20"/>
<rect x="826.00" y="995.0" width="2.00" height="89.5" fill="#999"/>
<rect x="828.00" y="995.0" width="2.70" height="89.5" fill="#231f20"/>
<rect x="833.70" y="995.0" width="6.50" height="89.5" fill="#231f20"/>
<rect x="845.00" y="995.0" width="10.00" height="89.5" fill="#231f20"/>
<rect x="858.00" y="995.0" width="1.80" height="89.5" fill="#231f20"/>
<rect x="871.00" y="995.0" width="2.30" height="89.5" fill="#231f20"/>
<rect x="878.00" y="995.0" width="2.00" height="89.5" fill="#231f20"/>
<rect x="892.70" y="995.0" width="2.30" height="89.5" fill="#231f20"/>
<rect x="895.00" y="995.0" width="1.00" height="89.5" fill="#888"/>
<rect x="896.00" y="995.0" width="1.00" height="89.5" fill="#231f20"/>
<rect x="897.00" y="995.0" width="2.00" height="89.5" fill="#aaa"/>
<rect x="899.00" y="995.0" width="19.00" height="89.5" fill="#231f20"/>
<rect x="903.50" y="995.0" width="0.70" height="89.5" fill="#3a3636"/>
<rect x="910.00" y="995.0" width="0.80" height="89.5" fill="#3a3636"/>
<rect x="923.30" y="995.0" width="3.70" height="89.5" fill="#231f20"/>
<rect x="929.30" y="995.0" width="1.70" height="89.5" fill="#231f20"/>
<rect x="933.00" y="995.0" width="14.70" height="89.5" fill="#231f20"/>
<rect x="935.70" y="995.0" width="1.00" height="89.5" fill="#666"/>
<rect x="941.00" y="995.0" width="3.00" height="89.5" fill="#555"/>
<rect x="944.00" y="995.0" width="1.70" height="89.5" fill="#999"/>
<rect x="952.00" y="995.0" width="5.00" height="89.5" fill="#231f20"/>
<rect x="954.50" y="995.0" width="2.50" height="89.5" fill="#3c3838"/>
<rect x="957.00" y="995.0" width="2.00" height="89.5" fill="#999"/>
<rect x="959.00" y="995.0" width="1.00" height="89.5" fill="#444"/>
<rect x="960.00" y="995.0" width="1.30" height="89.5" fill="#aaa"/>
<rect x="961.30" y="995.0" width="1.40" height="89.5" fill="#231f20"/>
<rect x="964.30" y="995.0" width="1.70" height="89.5" fill="#231f20"/>
<rect x="966.00" y="995.0" width="3.00" height="89.5" fill="#555"/>
<rect x="971.30" y="995.0" width="1.70" height="89.5" fill="#231f20"/>
<rect x="973.00" y="995.0" width="1.30" height="89.5" fill="#aaa"/>
<rect x="974.30" y="995.0" width="2.70" height="89.5" fill="#555"/>
<rect x="977.00" y="995.0" width="1.70" height="89.5" fill="#999"/>
<rect x="978.70" y="995.0" width="1.60" height="89.5" fill="#ccc"/>
<rect x="980.30" y="995.0" width="1.70" height="89.5" fill="#231f20"/>
<rect x="982.00" y="995.0" width="1.30" height="89.5" fill="#ddd"/>
<rect x="983.30" y="995.0" width="1.70" height="89.5" fill="#999"/>
<rect x="985.00" y="995.0" width="1.30" height="89.5" fill="#bbb"/>
<rect x="986.30" y="995.0" width="2.40" height="89.5" fill="#999"/>
<rect x="988.70" y="995.0" width="2.30" height="89.5" fill="#eee"/>
<rect x="991.00" y="995.0" width="1.00" height="89.5" fill="#444"/>
<rect x="992.00" y="995.0" width="1.30" height="89.5" fill="#999"/>
<rect x="993.30" y="995.0" width="1.00" height="89.5" fill="#ddd"/>
<rect x="994.30" y="995.0" width="3.40" height="89.5" fill="#231f20"/>
<rect x="997.70" y="995.0" width="3.60" height="89.5" fill="#e5e5e5"/>
<rect x="1001.30" y="995.0" width="2.40" height="89.5" fill="#231f20"/>
<rect x="1003.70" y="995.0" width="2.00" height="89.5" fill="#555"/>
<rect x="1005.70" y="995.0" width="2.30" height="89.5" fill="#d5d5d5"/>
<rect x="1008.00" y="995.0" width="3.00" height="89.5" fill="#5c5c5c"/>
<rect x="1011.00" y="995.0" width="1.70" height="89.5" fill="#231f20"/>
<rect x="1012.70" y="995.0" width="1.60" height="89.5" fill="#ddd"/>
<rect x="1014.30" y="995.0" width="2.70" height="89.5" fill="#231f20"/>
<rect x="1017.00" y="995.0" width="3.70" height="89.5" fill="#555"/>
<rect x="1020.70" y="995.0" width="1.60" height="89.5" fill="#f0f0f0"/>
<rect x="1022.30" y="995.0" width="2.70" height="89.5" fill="#aaa"/>
<rect x="1025.00" y="995.0" width="2.00" height="89.5" fill="#231f20"/>
<defs><pattern id="hz" width="5" height="5" patternUnits="userSpaceOnUse" patternTransform="skewY(28)"><rect width="5" height="5" fill="#9a9a9a"/><rect width="5" height="1.3" fill="#3a3a3a"/></pattern></defs>
<rect x="275.10" y="995.00" width="5.20" height="89.50" fill="url(#hz)" stroke="#555" stroke-width="0.5"/>
<rect x="571.20" y="995.00" width="6.30" height="89.50" fill="url(#hz)" stroke="#555" stroke-width="0.5"/>
<line x1="353.20" y1="995.00" x2="353.20" y2="1084.50" stroke="#666" stroke-width="0.7" stroke-dasharray="1.6 0.8"/>
<line x1="188.20" y1="995.00" x2="1027.00" y2="995.00" stroke="#777" stroke-width="1.2" />
<line x1="188.20" y1="1084.50" x2="1027.00" y2="1084.50" stroke="#555" stroke-width="1.2" />
<!-- strat -->
<line x1="188.00" y1="1102.80" x2="1027.40" y2="1102.80" stroke="#2a2a2a" stroke-width="1.6" />
<line x1="188.00" y1="1116.00" x2="308.60" y2="1116.00" stroke="#3a3a3a" stroke-width="1.0" />
<line x1="188.00" y1="1138.10" x2="1027.40" y2="1138.10" stroke="#3a3a3a" stroke-width="1.1" />
<line x1="188.00" y1="1167.10" x2="1027.40" y2="1167.10" stroke="#222" stroke-width="1.7" />
<line x1="188.00" y1="1211.80" x2="1027.40" y2="1211.80" stroke="#222" stroke-width="1.7" />
<line x1="308.60" y1="1095.00" x2="308.60" y2="1167.10" stroke="#3a3a3a" stroke-width="1.1" />
<line x1="542.30" y1="1095.00" x2="542.30" y2="1167.10" stroke="#3a3a3a" stroke-width="1.1" />
<line x1="677.80" y1="1095.00" x2="677.80" y2="1167.10" stroke="#3a3a3a" stroke-width="1.1" />
<line x1="971.70" y1="1095.00" x2="971.70" y2="1167.10" stroke="#3a3a3a" stroke-width="1.1" />
<line x1="420.60" y1="1095.00" x2="420.60" y2="1167.10" stroke="#3a3a3a" stroke-width="1.2" />
<line x1="420.60" y1="1167.10" x2="420.60" y2="1211.80" stroke="#222" stroke-width="1.9" />
<line x1="841.40" y1="1095.00" x2="841.40" y2="1167.10" stroke="#3a3a3a" stroke-width="1.2" />
<line x1="841.40" y1="1167.10" x2="841.40" y2="1211.80" stroke="#222" stroke-width="1.9" />
<line x1="1027.40" y1="1095.00" x2="1027.40" y2="1211.80" stroke="#333" stroke-width="1.6" />
<line x1="198.30" y1="1102.80" x2="198.30" y2="1116.00" stroke="#3a3a3a" stroke-width="1" />
<line x1="289.00" y1="1102.80" x2="289.00" y2="1116.00" stroke="#3a3a3a" stroke-width="1" />
<line x1="238.70" y1="1102.80" x2="238.70" y2="1116.00" stroke="#3a3a3a" stroke-width="1" stroke-dasharray="2 1.5"/>
<line x1="277.50" y1="1102.80" x2="277.50" y2="1116.00" stroke="#3a3a3a" stroke-width="1" stroke-dasharray="2 1.5"/>
<line x1="263.00" y1="1102.80" x2="263.00" y2="1138.10" stroke="#3a3a3a" stroke-width="1.2" />
<line x1="376.50" y1="1102.80" x2="376.50" y2="1138.10" stroke="#3a3a3a" stroke-width="1.0" />
<line x1="400.50" y1="1102.80" x2="400.50" y2="1138.10" stroke="#3a3a3a" stroke-width="1.0" />
<line x1="432.40" y1="1102.80" x2="432.40" y2="1138.10" stroke="#3a3a3a" stroke-width="1.0" />
<line x1="457.30" y1="1102.80" x2="457.30" y2="1138.10" stroke="#3a3a3a" stroke-width="1.0" />
<line x1="607.70" y1="1102.80" x2="607.70" y2="1138.10" stroke="#3a3a3a" stroke-width="1.0" />
<line x1="635.70" y1="1102.80" x2="635.70" y2="1138.10" stroke="#3a3a3a" stroke-width="1.0" />
<line x1="784.50" y1="1102.80" x2="784.50" y2="1138.10" stroke="#3a3a3a" stroke-width="1.0" />
<line x1="882.40" y1="1102.80" x2="882.40" y2="1138.10" stroke="#3a3a3a" stroke-width="1.0" />
<line x1="945.60" y1="1102.80" x2="945.60" y2="1138.10" stroke="#3a3a3a" stroke-width="1.0" />
<line x1="1013.90" y1="1102.80" x2="1013.90" y2="1138.10" stroke="#3a3a3a" stroke-width="1.0" />
<line x1="1020.50" y1="1102.80" x2="1020.50" y2="1138.10" stroke="#3a3a3a" stroke-width="1.0" />
<line x1="1020.50" y1="1138.10" x2="1020.50" y2="1167.10" stroke="#3a3a3a" stroke-width="1" />
<text x="192.20" y="1113.30" font-size="9.5" fill="#000" text-anchor="middle" textLength="6.50" lengthAdjust="spacingAndGlyphs" >E.</text>
<text x="219.40" y="1113.30" font-size="9.5" fill="#000" text-anchor="middle" textLength="25.30" lengthAdjust="spacingAndGlyphs" >Middle</text>
<text x="250.70" y="1113.30" font-size="9.5" fill="#000" text-anchor="middle" textLength="16.60" lengthAdjust="spacingAndGlyphs" >Late</text>
<text x="269.80" y="1113.30" font-size="9.5" fill="#000" text-anchor="middle" textLength="7.50" lengthAdjust="spacingAndGlyphs" >E.</text>
<text x="283.30" y="1113.30" font-size="9.5" fill="#000" text-anchor="middle" textLength="8.50" lengthAdjust="spacingAndGlyphs" >M.</text>
<text x="298.70" y="1113.30" font-size="9.5" fill="#000" text-anchor="middle" textLength="7.00" lengthAdjust="spacingAndGlyphs" >L.</text>
<text x="227.70" y="1130.20" font-size="9.9" fill="#000" text-anchor="middle" textLength="51.00" lengthAdjust="spacingAndGlyphs" >Mississippian</text>
<text x="285.80" y="1129.20" font-size="7.6" fill="#000" text-anchor="middle" textLength="42.00" lengthAdjust="spacingAndGlyphs" >Pennsylvanian</text>
<text x="343.30" y="1124.30" font-size="10.5" fill="#000" text-anchor="middle" textLength="38.00" lengthAdjust="spacingAndGlyphs" >Cisuralian</text>
<text x="388.40" y="1118.00" font-size="7.5" fill="#000" text-anchor="middle" textLength="20.50" lengthAdjust="spacingAndGlyphs" >Guada-</text>
<text x="388.40" y="1126.50" font-size="7.5" fill="#000" text-anchor="middle" textLength="17.00" lengthAdjust="spacingAndGlyphs" >lupian</text>
<text x="410.20" y="1118.00" font-size="7.5" fill="#000" text-anchor="middle" textLength="15.00" lengthAdjust="spacingAndGlyphs" >Lopin-</text>
<text x="410.20" y="1126.50" font-size="7.5" fill="#000" text-anchor="middle" textLength="10.50" lengthAdjust="spacingAndGlyphs" >gian</text>
<text x="429.20" y="1120.60" font-size="8.5" fill="#111" font-weight="bold" text-anchor="middle" textLength="22" lengthAdjust="spacingAndGlyphs" transform="rotate(-90 429.20 1120.60)">Early</text>
<text x="448.30" y="1120.00" font-size="8.6" fill="#111" font-weight="bold" text-anchor="middle" textLength="24.5" lengthAdjust="spacingAndGlyphs" transform="rotate(-90 448.30 1120.00)">Middle</text>
<text x="503.00" y="1121.40" font-size="8.8" fill="#111" font-weight="bold" text-anchor="middle" textLength="19.5" lengthAdjust="spacingAndGlyphs" transform="rotate(-90 503.00 1121.40)">Late</text>
<text x="577.20" y="1120.40" font-size="8.8" fill="#111" font-weight="bold" text-anchor="middle" textLength="21.5" lengthAdjust="spacingAndGlyphs" transform="rotate(-90 577.20 1120.40)">Early</text>
<text x="625.00" y="1120.60" font-size="7.6" fill="#111" font-weight="bold" text-anchor="middle" textLength="26" lengthAdjust="spacingAndGlyphs" transform="rotate(-90 625.00 1120.60)">Middle</text>
<text x="660.00" y="1120.50" font-size="8.8" fill="#111" font-weight="bold" text-anchor="middle" textLength="19.5" lengthAdjust="spacingAndGlyphs" transform="rotate(-90 660.00 1120.50)">Late</text>
<text x="733.20" y="1120.70" font-size="9" fill="#111" font-weight="bold" text-anchor="middle" textLength="21.5" lengthAdjust="spacingAndGlyphs" transform="rotate(-90 733.20 1120.70)">Early</text>
<text x="817.20" y="1120.50" font-size="9" fill="#111" font-weight="bold" text-anchor="middle" textLength="19.5" lengthAdjust="spacingAndGlyphs" transform="rotate(-90 817.20 1120.50)">Late</text>
<text x="1019.30" y="1120.30" font-size="6.2" fill="#111" font-weight="bold" text-anchor="middle" textLength="29.3" lengthAdjust="spacingAndGlyphs" transform="rotate(-90 1019.30 1120.30)">Pliocene</text>
<text x="1025.20" y="1120.50" font-size="3.6" fill="#111" font-weight="normal" text-anchor="middle" textLength="30" lengthAdjust="spacingAndGlyphs" transform="rotate(-90 1025.20 1120.50)">Pleistocene</text>
<text x="1026.60" y="1112.00" font-size="2.5" fill="#111" font-weight="normal" text-anchor="middle" textLength="12" lengthAdjust="spacingAndGlyphs" transform="rotate(-90 1026.60 1112.00)">Holocene</text>
<text x="1025.60" y="1152.40" font-size="4.6" fill="#111" font-weight="normal" text-anchor="middle" textLength="27.5" lengthAdjust="spacingAndGlyphs" transform="rotate(-90 1025.60 1152.40)">Quaternary</text>
<text x="862.20" y="1123.40" font-size="10.4" fill="#000" font-weight="bold" text-anchor="middle" textLength="38.30" lengthAdjust="spacingAndGlyphs" >Miocene</text>
<text x="914.00" y="1123.20" font-size="10.4" fill="#000" font-weight="bold" text-anchor="middle" textLength="46.30" lengthAdjust="spacingAndGlyphs" >Oligocene</text>
<text x="958.50" y="1122.50" font-size="6.8" fill="#000" font-weight="bold" text-anchor="middle" textLength="21.00" lengthAdjust="spacingAndGlyphs" >Eocene</text>
<text x="993.20" y="1122.80" font-size="7.8" fill="#000" font-weight="bold" text-anchor="middle" textLength="35.50" lengthAdjust="spacingAndGlyphs" >Paleocene</text>
<text x="200.30" y="1158.30" font-size="16.3" fill="#1a1a1a" font-weight="bold" textLength="98.50" lengthAdjust="spacingAndGlyphs" >Carboniferous</text>
<text x="339.30" y="1158.30" font-size="16.3" fill="#1a1a1a" font-weight="bold" textLength="57.50" lengthAdjust="spacingAndGlyphs" >Permian</text>
<text x="457.30" y="1158.30" font-size="16.3" fill="#1a1a1a" font-weight="bold" textLength="54.50" lengthAdjust="spacingAndGlyphs" >Triassic</text>
<text x="582.80" y="1158.30" font-size="16.3" fill="#1a1a1a" font-weight="bold" textLength="58.50" lengthAdjust="spacingAndGlyphs" >Jurassic</text>
<text x="718.30" y="1158.30" font-size="16.3" fill="#1a1a1a" font-weight="bold" textLength="78.50" lengthAdjust="spacingAndGlyphs" >Cretaceous</text>
<text x="879.80" y="1156.50" font-size="16.3" fill="#1a1a1a" font-weight="bold" textLength="72.30" lengthAdjust="spacingAndGlyphs" >Paleogene</text>
<text x="972.80" y="1155.60" font-size="11.9" fill="#1a1a1a" font-weight="bold" textLength="47.70" lengthAdjust="spacingAndGlyphs" >Neogene</text>
<text x="231.20" y="1200.20" font-size="30.8" fill="#1a1a1a" font-weight="bold" textLength="145.40" lengthAdjust="spacingAndGlyphs" >PALEOZOIC</text>
<text x="568.70" y="1200.20" font-size="30.8" fill="#1a1a1a" font-weight="bold" textLength="137.00" lengthAdjust="spacingAndGlyphs" >MESOZOIC</text>
<text x="864.20" y="1200.20" font-size="30.8" fill="#1a1a1a" font-weight="bold" textLength="139.40" lengthAdjust="spacingAndGlyphs" >CENOZOIC</text>
<rect x="1083.5" y="1000.5" width="151" height="91" rx="10" ry="10" fill="#fff" stroke="#666" stroke-width="1"/>
<text x="1096.50" y="1047.40" font-size="45.3" fill="#000" font-weight="bold" textLength="117.00" lengthAdjust="spacingAndGlyphs" >GPTS</text>
<text x="1125.00" y="1076.80" font-size="16.8" fill="#000" font-weight="bold" textLength="78.50" lengthAdjust="spacingAndGlyphs" >0-350 Myr</text>
<rect x="1058.00" y="1115.00" width="199.70" height="81.50" fill="#fff" stroke="#8a8a8a" stroke-width="1"/>
<rect x="1072.20" y="1124.00" width="19.00" height="15.00" fill="#000" />
<rect x="1072.70" y="1148.00" width="18.00" height="14.50" fill="#fff" stroke="#555" stroke-width="1"/>
<defs><pattern id="hz2" width="8" height="7.4" patternUnits="userSpaceOnUse" patternTransform="translate(1072 1170.6) skewY(-26)"><rect width="8" height="7.4" fill="#b4b4b4"/><rect y="3" width="8" height="2.2" fill="#2a2a2a"/></pattern></defs>
<rect x="1072.70" y="1171.00" width="18.00" height="14.50" fill="url(#hz2)" stroke="#444" stroke-width="1"/>
<text x="1100.10" y="1136.80" font-size="19.8" fill="#111" textLength="61.00" lengthAdjust="spacingAndGlyphs" >Normal</text>
<text x="1100.10" y="1160.20" font-size="19.8" fill="#111" textLength="70.50" lengthAdjust="spacingAndGlyphs" >Reverse</text>
<text x="1100.10" y="1183.20" font-size="19.8" fill="#111" textLength="149.50" lengthAdjust="spacingAndGlyphs" >Uncertain polarity</text>
</svg>
</body>
</html>
